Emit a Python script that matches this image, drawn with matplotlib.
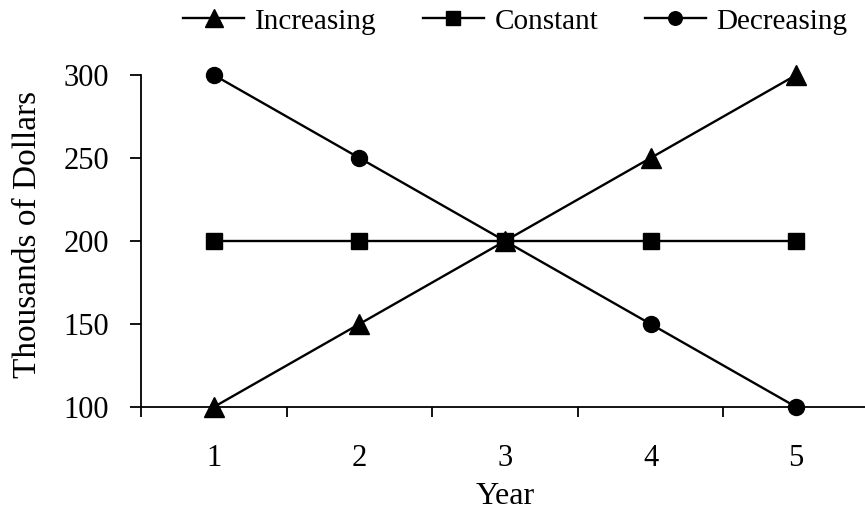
import numpy as np
import matplotlib.pyplot as plt

plt.rcParams['font.family'] = ['Liberation Serif', 'DejaVu Serif']

# Data
years = [1, 2, 3, 4, 5]
increasing = [100, 150, 200, 250, 300]
constant = [200, 200, 200, 200, 200]
decreasing = [300, 250, 200, 150, 100]
yticks = [100, 150, 200, 250, 300]

fig = plt.figure(figsize=(8.65, 5.16), dpi=100)
ax = fig.add_axes([141/865, 109/516, 728/865, 332/516])

ax.plot(years, increasing, color='k', lw=1.7, marker='^', ms=15, label='Increasing', clip_on=False)
ax.plot(years, constant, color='k', lw=1.7, marker='s', ms=12, label='Constant', clip_on=False)
ax.plot(years, decreasing, color='k', lw=1.7, marker='o', ms=11.5, label='Decreasing', clip_on=False)

ax.set_xlim(0.5, 5.5)
ax.set_ylim(100, 300)
ax.set_yticks(yticks)
ax.set_xticks(years)
ax.set_xticks(np.arange(0.5, 6, 1), minor=True)

ax.tick_params(axis='x', which='major', length=0, pad=27, labelsize=22)
ax.tick_params(axis='x', which='minor', length=7, width=1.3, direction='out')
ax.tick_params(axis='y', which='major', length=8, width=1.3, direction='out', pad=15, labelsize=22)

for s in ['top', 'right']:
    ax.spines[s].set_visible(False)
for s in ['left', 'bottom']:
    ax.spines[s].set_linewidth(1.3)

ax.set_xlabel('Year', fontsize=23, labelpad=6)
ax.set_ylabel('Thousands of Dollars', fontsize=24)
ax.yaxis.set_label_coords(-0.134, 0.521)

ax.legend(loc='upper center', bbox_to_anchor=(0.514, 1.28), ncol=3, frameon=False,
          fontsize=21, handlelength=2.1, handletextpad=0.35, columnspacing=1.6,
          markerscale=0.85)

plt.savefig('out.png', dpi=100)
plt.close('all')
